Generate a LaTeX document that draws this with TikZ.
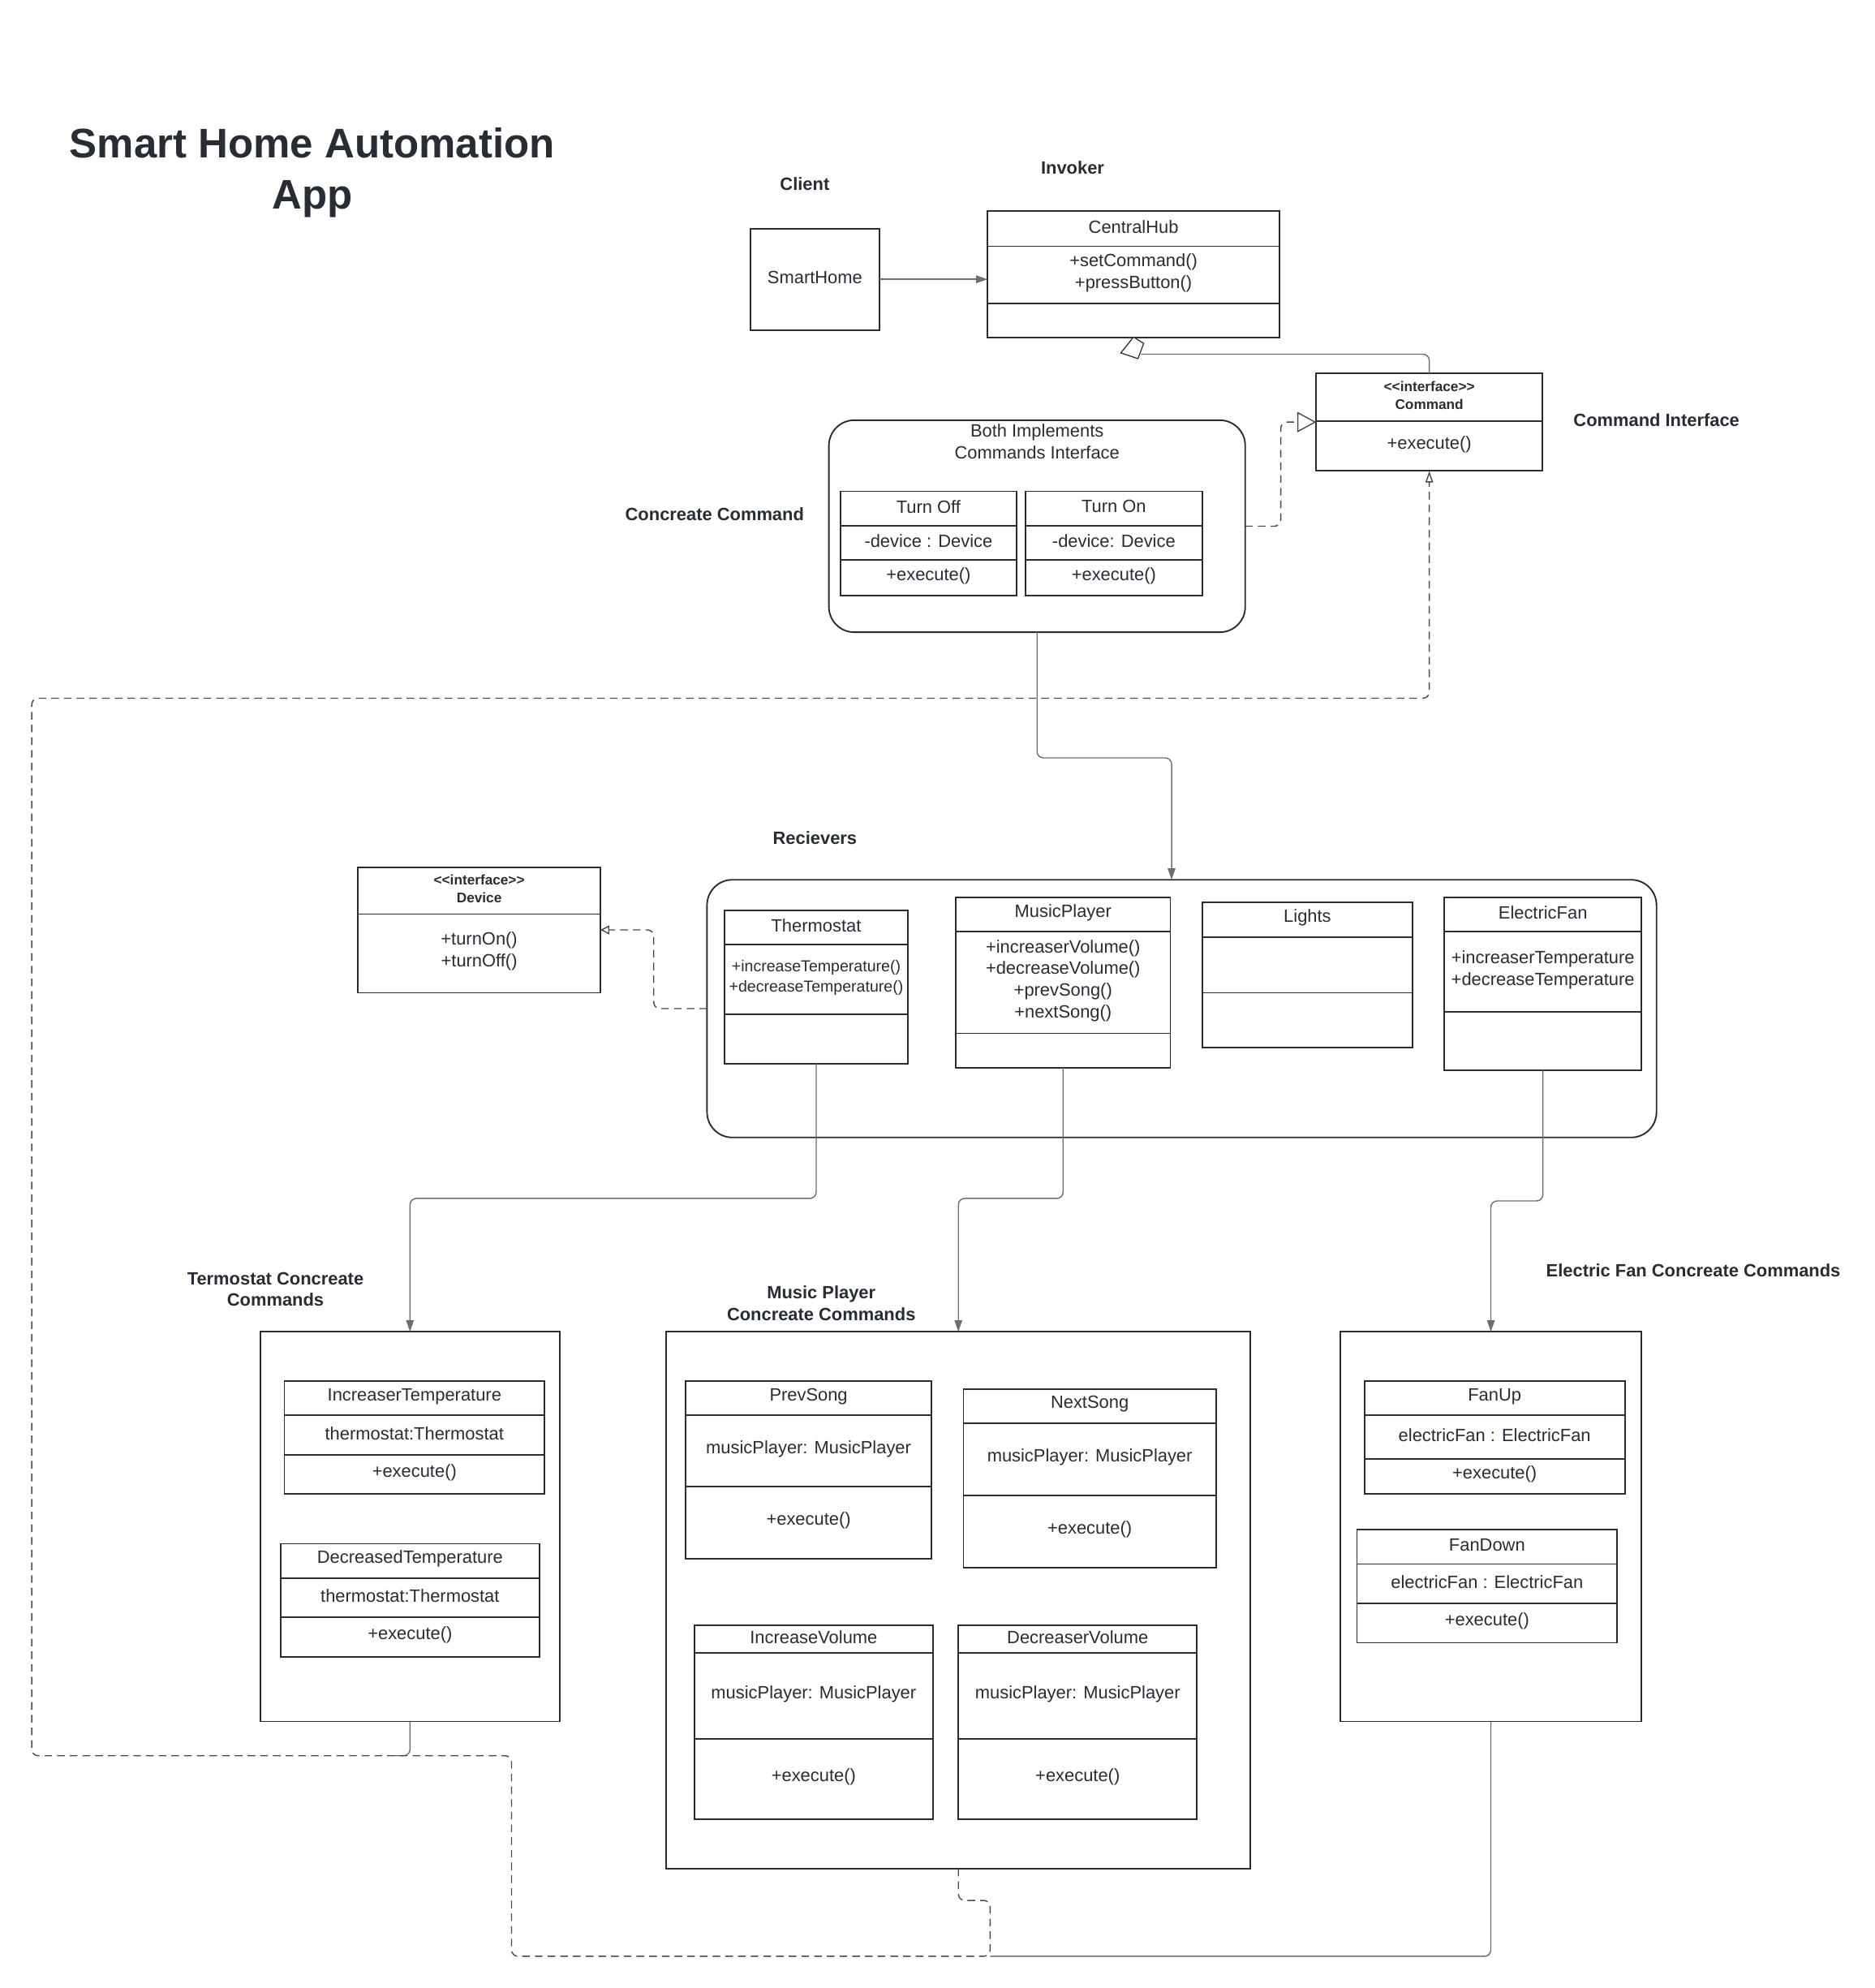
\documentclass[tikz,border=0pt]{standalone}
\usepackage{fontspec}
\setmainfont{Liberation Sans}
\usetikzlibrary{arrows.meta,calc,fit,positioning}
\definecolor{ink}{HTML}{282C33}
\definecolor{wiregray}{HTML}{6E6E6E}
\definecolor{dashgray}{HTML}{4A4A4A}
\tikzset{
  box/.style={draw=ink, line width=1.2pt, inner sep=0pt, outer sep=0pt},
  grp/.style={box, rounded corners=20pt},
  boxline/.style={draw=ink, line width=1.2pt},
  txt/.style={text=ink, align=center, inner sep=0pt, font=\fontsize{14}{17}\selectfont},
  celltxt/.style={txt, yshift=1.5pt},
  tight/.style={font=\fontsize{12.5}{16}\selectfont},
  iface/.style={font=\bfseries\fontsize{11}{14}\selectfont},
  heading/.style={txt, font=\bfseries\fontsize{32.6}{40}\selectfont},
  lbl/.style={txt, font=\bfseries\fontsize{14}{17}\selectfont},
  wire/.style={draw=wiregray, line width=0.9pt, rounded corners=5pt},
  dashwire/.style={draw=dashgray, line width=0.9pt, dash pattern=on 6pt off 4pt, rounded corners=5pt},
  solidtip/.style={-{Triangle[length=9pt,width=6pt]}},
}
\newcommand{\stereo}[1]{<\kern0pt<#1>\kern0pt>}
% one UML class: [styles]{name}{top left}{bottom right}{divider}{divider}{name}{attributes}{operations}
\newcommand{\umlclass}[9][]{%
  \tikzset{namestyle/.style={}, attrstyle/.style={}, #1}
  \node[box, fit={(#3) (#4)}] (#2) {};
  \draw[boxline] (#2.west |- 0,#5) -- (#2.east |- 0,#5);
  \draw[boxline] (#2.west |- 0,#6) -- (#2.east |- 0,#6);
  \node[celltxt,namestyle] (#2-name) at ($(#2.north)!0.5!(#2.north |- 0,#5)$) {#7};
  \node[celltxt,attrstyle] (#2-attr) at ($(#2.north |- 0,#5)!0.5!(#2.north |- 0,#6)$) {#8};
  \node[celltxt] (#2-ops) at ($(#2.north |- 0,#6)!0.5!(#2.south)$) {#9};
}
\begin{document}
\begin{tikzpicture}[x=1pt,y=-1pt]
\useasboundingbox (0,0) rectangle (1477,1566);

% headings
\node[heading] (title) at (246,136) {Smart Home Automation\\App};
\node[lbl] (clientlbl) at (634,145) {Client};
\node[lbl] (invokerlbl) at (845,132) {Invoker};
\node[lbl] (ifacelbl) at (1305,331) {Command Interface};
\node[lbl] (concretelbl) at (563,405) {Concreate Command};
\node[lbl] (recvlbl) at (642,660) {Recievers};
\node[lbl] (tcclbl) at (217,1015.5) {Termostat Concreate\\Commands};
\node[lbl] (mcclbl) at (647,1026.5) {Music Player\\Concreate Commands};
\node[lbl] (fcclbl) at (1334,1001) {Electric Fan Concreate Commands};

% client and invoker
\node[box, fit={(591,180) (693,260)}] (home) {};
\node[celltxt] (home-name) at (home) {SmartHome};
\umlclass{hub}{778,166}{1008,266}{194}{239}{CentralHub}{+setCommand()\\+pressButton()}{}
\umlclass[namestyle/.style=iface]{cmd}{1037,294}{1215,371}{332}{371}{\stereo{interface}\\Command}{+execute()}{}

% concrete commands
\node[grp, fit={(653,331) (981,498)}] (cmds) {};
\node[txt] (cmds-note) at (817,348) {Both Implements\\Commands Interface};
\umlclass{off}{662,387}{801,469}{414}{441}{Turn Off}{-device : Device}{+execute()}
\umlclass{on}{808,387}{947,469}{414}{441}{Turn On}{-device: Device}{+execute()}

% receivers
\umlclass[namestyle/.style=iface]{dev}{282,683}{473,782}{720}{782}{\stereo{interface}\\Device}{+turnOn()\\+turnOff()}{}
\node[grp, fit={(557,693) (1305,896)}] (recv) {};
\umlclass[attrstyle/.style=tight]{thermo}{571,717}{715,838}{744}{799}{Thermostat}{+increaseTemperature()\\+decreaseTemperature()}{}
\umlclass{music}{753,707}{922,841}{734}{814}{MusicPlayer}{+increaserVolume()\\+decreaseVolume()\\+prevSong()\\+nextSong()}{}
\umlclass{lights}{947,711}{1113,825}{738}{782}{Lights}{}{}
\umlclass{fan}{1138,707}{1293,843}{734}{797}{ElectricFan}{+increaserTemperature\\+decreaseTemperature}{}

% device commands
\node[box, fit={(205,1049) (441,1356)}] (tcc) {};
\umlclass{incT}{224,1088}{429,1177}{1115}{1146}{IncreaserTemperature}{thermostat:Thermostat}{+execute()}
\umlclass{decT}{221,1216}{425,1305}{1243}{1274}{DecreasedTemperature}{thermostat:Thermostat}{+execute()}
\node[box, fit={(525,1049) (985,1472)}] (mcc) {};
\umlclass{prev}{540,1088}{734,1228}{1115}{1171}{PrevSong}{musicPlayer: MusicPlayer}{+execute()}
\umlclass{next}{759,1094}{958,1235}{1121}{1178}{NextSong}{musicPlayer: MusicPlayer}{+execute()}
\umlclass{incV}{547,1280}{735,1433}{1302}{1370}{IncreaseVolume}{musicPlayer: MusicPlayer}{+execute()}
\umlclass{decV}{755,1280}{943,1433}{1302}{1370}{DecreaserVolume}{musicPlayer: MusicPlayer}{+execute()}
\node[box, fit={(1056,1049) (1293,1356)}] (fcc) {};
\umlclass{fanUp}{1075,1088}{1280,1177}{1115}{1149}{FanUp}{electricFan : ElectricFan}{+execute()}
\umlclass{fanDown}{1069,1205}{1274,1294}{1232}{1263}{FanDown}{electricFan : ElectricFan}{+execute()}

% connectors
\coordinate (agg) at (899,279);
\coordinate (r1) at (923,597);
\coordinate (m1) at (780,1497);
\coordinate (m2) at (403,1541);
\coordinate (m3) at (25,1383);
\coordinate (m4) at (1126,550);
\draw[wire, solidtip] (home.east) -- (home.east -| hub.west);
\draw[wire] (cmd.north) |- (agg);
\draw[ink, fill=white, line width=0.8pt] (893,265.5) -- (901,270.5) -- (896.5,282.5) -- (883,278) -- cycle; % aggregation diamond
\draw[dashwire, -{Triangle[open,length=15pt,width=16pt,fill=white]}] (cmds.east) -| ($(cmds.east)!0.5!(cmd.west)$) |- (cmd.west);
\draw[wire, solidtip] (cmds.south) |- (r1) -- (r1 |- recv.north);
\draw[dashwire, -{Triangle[open,length=7pt,width=7pt]}] (recv.west) -| ($(recv.west)!0.5!(dev.east)$) |- (dev.east);
\draw[wire, solidtip] (thermo.south) -- (thermo.south |- 0,944) -| (tcc.north);
\draw[wire, solidtip] (music.south) -- (music.south |- 0,944) -| (mcc.north);
\draw[wire, solidtip] (fan.south) -- (fan.south |- 0,946) -| (fcc.north);
\draw[wire] (tcc.south) |- ($(tcc.south)+(-12,27)$);
\draw[wire] (fcc.south) |- (m1 |- m2);
\draw[dashwire, -{Triangle[open,length=9pt,width=6pt]}] (mcc.south) |- (m1) |- (m2) |- (m3) |- (m4) -- (cmd.south);
\end{tikzpicture}
\end{document}
